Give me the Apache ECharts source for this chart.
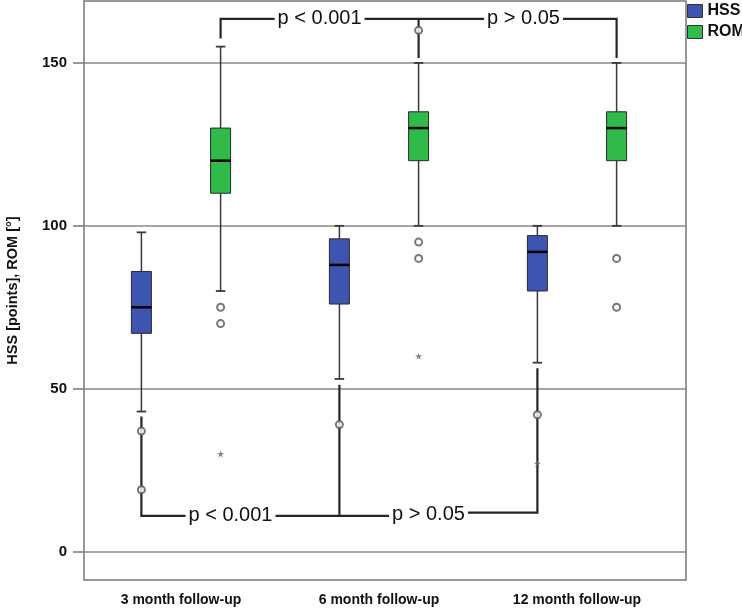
<!DOCTYPE html>
<html><head><meta charset="utf-8">
<script src="https://cdn.jsdelivr.net/npm/echarts@6/dist/echarts.min.js"></script>
<style>html,body{margin:0;padding:0;background:#fff}#c{width:742px;height:615px}</style>
</head><body><div id="c"></div>
<script>
const categories = ['3 month follow-up', '6 month follow-up', '12 month follow-up'];
const seriesNames = ['HSS', 'ROM'];
const hssMin = [43, 53, 58];
const hssQ1 = [67, 76, 80];
const hssMedian = [75, 88, 92];
const hssQ3 = [86, 96, 97];
const hssMax = [98, 100, 100];
const romMin = [80, 100, 100];
const romQ1 = [110, 120, 120];
const romMedian = [120, 130, 130];
const romQ3 = [130, 135, 135];
const romMax = [155, 150, 150];
const hssCircles = [[0, 37], [0, 19], [1, 39], [2, 42]];
const hssStars = [[2, 27]];
const romCircles = [[0, 75], [0, 70], [1, 160], [1, 95], [1, 90], [2, 90], [2, 75]];
const romStars = [[0, 30], [1, 60]];
const yTicks = [0, 50, 100, 150];
const yMin = -8.7, yMax = 169;
// significance brackets: polylines of [category, series, value]
const bracketLines = [
  [[0, 'ROM', 157.5], [0, 'ROM', 163.5], [2, 'ROM', 163.5], [2, 'ROM', 151.5]],
  [[1, 'ROM', 163.5], [1, 'ROM', 151.5]],
  [[0, 'HSS', 41.5], [0, 'HSS', 11], [1.25, null, 11], [1.25, null, 12], [2, 'HSS', 12], [2, 'HSS', 56.3]],
  [[1, 'HSS', 51.2], [1, 'HSS', 11]]
];
// p-value labels: [position along category axis, value, text]
const pLabels = [[0.70, 163.5, 'p < 0.001'], [1.73, 163.5, 'p > 0.05'], [0.25, 11, 'p < 0.001'], [1.25, 11.5, 'p > 0.05']];

const colors = { HSS: '#3d55b0', ROM: '#2fba4a' };
const sideOffset = { HSS: -0.2, ROM: 0.2 };

const hssData = categories.map((c, i) => [i, hssMin[i], hssQ1[i], hssMedian[i], hssQ3[i], hssMax[i]]);
const romData = categories.map((c, i) => [i, romMin[i], romQ1[i], romMedian[i], romQ3[i], romMax[i]]);

function renderBox(name) {
  const off = sideOffset[name];
  return function (params, api) {
    const c = api.value(0);
    const band = api.size([1, 0])[0];
    const x = api.coord([c + off, 0])[0];
    const y = i => api.coord([c + off, api.value(i)])[1];
    const yLo = y(1), yQ1 = y(2), yMed = y(3), yQ3 = y(4), yHi = y(5);
    const bw = band * 0.101, cw = band * 0.048;
    const ws = { stroke: '#3a3a3a', lineWidth: 1.5 };
    return {
      type: 'group', children: [
        { type: 'line', shape: { x1: x, y1: yHi, x2: x, y2: yQ3 }, style: ws },
        { type: 'line', shape: { x1: x, y1: yQ1, x2: x, y2: yLo }, style: ws },
        { type: 'line', shape: { x1: x - cw / 2, y1: yHi, x2: x + cw / 2, y2: yHi }, style: { stroke: '#3a3a3a', lineWidth: 1.8 } },
        { type: 'line', shape: { x1: x - cw / 2, y1: yLo, x2: x + cw / 2, y2: yLo }, style: { stroke: '#3a3a3a', lineWidth: 1.8 } },
        { type: 'rect', shape: { x: x - bw / 2, y: yQ3, width: bw, height: yQ1 - yQ3 }, style: { fill: colors[name], stroke: '#2a2a2a', lineWidth: 1 } },
        { type: 'line', shape: { x1: x - bw / 2, y1: yMed, x2: x + bw / 2, y2: yMed }, style: { stroke: '#000', lineWidth: 2.5 } }
      ]
    };
  };
}

function toXY(list, name) { return list.map(([c, v]) => [c + sideOffset[name], v]); }

const starPath = 'path://M50,0 L61,35 L98,35 L68,57 L79,91 L50,70 L21,91 L32,57 L2,35 L39,35 Z';

const chart = echarts.init(document.getElementById('c'), null, { renderer: 'canvas' });
const option = {
  animation: false,
  backgroundColor: '#fff',
  legend: {
    data: seriesNames, orient: 'vertical', left: 687, top: 3, padding: 0, itemWidth: 15, itemHeight: 13, itemGap: 5,
    icon: 'rect', textStyle: { fontWeight: 'bold', fontSize: 16, color: '#111', fontFamily: 'Liberation Sans' },
    itemStyle: { borderColor: '#333', borderWidth: 1 }
  },
  grid: [
    { left: 84, right: 56, top: 1, bottom: 35, show: true, borderColor: '#777', borderWidth: 1.5, backgroundColor: 'transparent', containLabel: false, outerBoundsMode: 'none' },
    { left: 82, width: 594, top: 1, bottom: 35, containLabel: false, outerBoundsMode: 'none' }
  ],
  xAxis: [
    { gridIndex: 0, type: 'value', min: 0, max: 1, show: false },
    {
      gridIndex: 1, type: 'category', data: categories, axisLine: { show: false },
      axisTick: { alignWithLabel: true, length: 10, lineStyle: { color: '#555', width: 1.5 } },
      axisLabel: { fontWeight: 'bold', fontSize: 14, color: '#111', margin: 13, fontFamily: 'Liberation Sans' },
      splitLine: { show: false }
    },
    { gridIndex: 1, type: 'value', min: -0.5, max: 2.5, show: false }
  ],
  yAxis: [
    {
      gridIndex: 0, type: 'value', min: yMin, max: yMax,
      name: 'HSS [points], ROM [°]', nameLocation: 'middle', nameGap: 64,
      nameTextStyle: { fontWeight: 'bold', fontSize: 14.5, color: '#111', fontFamily: 'Liberation Sans' },
      axisLine: { show: false },
      axisTick: { show: true, customValues: yTicks, length: 11, lineStyle: { color: '#777', width: 1.5 } },
      axisLabel: { customValues: yTicks, fontWeight: 'bold', fontSize: 15, color: '#111', margin: 17, fontFamily: 'Liberation Sans' },
      splitLine: { show: true, lineStyle: { color: '#888', width: 1.5 } }
    },
    { gridIndex: 1, type: 'value', min: yMin, max: yMax, show: false }
  ],
  series: [
    {
      name: 'HSS', type: 'custom', xAxisIndex: 2, yAxisIndex: 1, itemStyle: { color: colors.HSS },
      encode: { x: 0, y: [1, 2, 3, 4, 5] }, renderItem: renderBox('HSS'), data: hssData, z: 3
    },
    {
      name: 'ROM', type: 'custom', xAxisIndex: 2, yAxisIndex: 1, itemStyle: { color: colors.ROM },
      encode: { x: 0, y: [1, 2, 3, 4, 5] }, renderItem: renderBox('ROM'), data: romData, z: 3
    },
    {
      name: 'brackets', type: 'custom', xAxisIndex: 2, yAxisIndex: 1, z: 4, silent: true,
      data: bracketLines.map((l, i) => [i]),
      renderItem: function (params, api) {
        const line = bracketLines[params.dataIndex];
        const pts = line.map(([c, s, v]) => api.coord([c + (s ? sideOffset[s] : 0), v]));
        return { type: 'polyline', shape: { points: pts }, style: { stroke: '#262626', lineWidth: 2.2, fill: null } };
      }
    },
    {
      name: 'pvalues', type: 'custom', xAxisIndex: 2, yAxisIndex: 1, z: 6, silent: true,
      data: pLabels.map(p => [p[0], p[1]]),
      renderItem: function (params, api) {
        const p = api.coord([api.value(0), api.value(1)]);
        return {
          type: 'text', x: p[0], y: p[1],
          style: {
            text: pLabels[params.dataIndex][2], align: 'center', verticalAlign: 'middle',
            font: '20px "Liberation Sans"', fill: '#111', backgroundColor: '#fff', padding: [1, 3]
          }
        };
      }
    },
    {
      name: 'HSS outliers', type: 'scatter', xAxisIndex: 2, yAxisIndex: 1, z: 5,
      symbol: 'emptyCircle', symbolSize: 7, itemStyle: { color: '#555', borderWidth: 1.3 },
      data: toXY(hssCircles, 'HSS')
    },
    {
      name: 'ROM outliers', type: 'scatter', xAxisIndex: 2, yAxisIndex: 1, z: 5,
      symbol: 'emptyCircle', symbolSize: 7, itemStyle: { color: '#555', borderWidth: 1.3 },
      data: toXY(romCircles, 'ROM')
    },
    {
      name: 'HSS extremes', type: 'scatter', xAxisIndex: 2, yAxisIndex: 1, z: 5,
      symbol: starPath, symbolSize: 7, itemStyle: { color: '#666' },
      data: toXY(hssStars, 'HSS')
    },
    {
      name: 'ROM extremes', type: 'scatter', xAxisIndex: 2, yAxisIndex: 1, z: 5,
      symbol: starPath, symbolSize: 7, itemStyle: { color: '#666' },
      data: toXY(romStars, 'ROM')
    }
  ]
};
chart.setOption(option);
</script>
</body></html>
